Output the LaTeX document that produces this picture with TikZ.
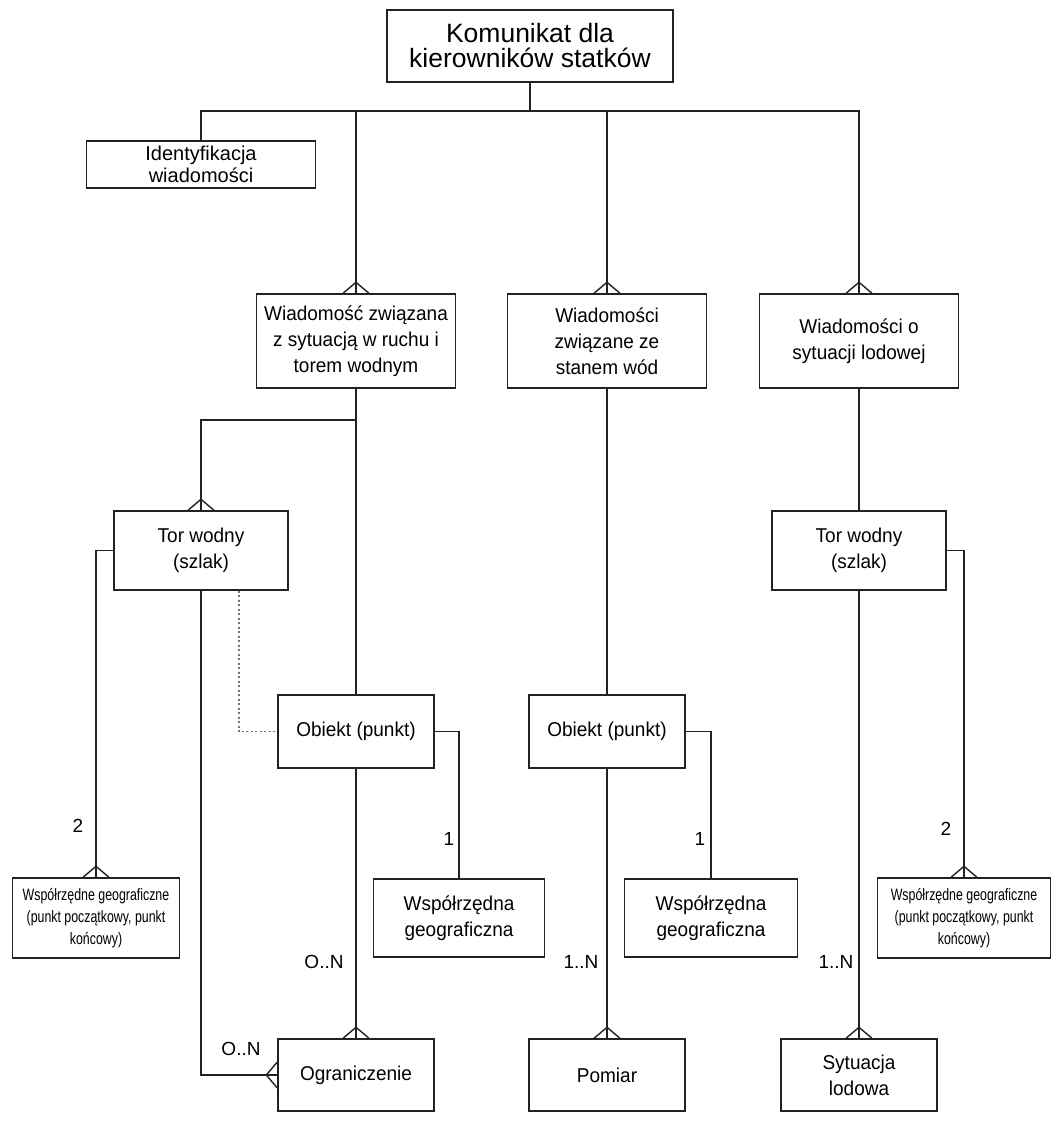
\documentclass[tikz,border=0pt]{standalone}
\usepackage{fontspec}
\setmainfont{Liberation Sans}
\newfontfamily\narrowfont[FakeStretch=0.75]{Liberation Sans}
\newfontfamily\boxfont[FakeStretch=0.95]{Liberation Sans}
\usetikzlibrary{calc}
\definecolor{ink}{HTML}{222222}
\tikzset{
  box/.style={draw=ink, line width=1.4pt, rectangle, align=center, inner sep=2pt,
    font=\boxfont\fontsize{20}{26}\selectfont, text=black},
  smallbox/.style={box, font=\narrowfont\fontsize{16.5}{22}\selectfont},
  conn/.style={draw=ink, line width=1.4pt},
  dotconn/.style={draw=gray!90!black, line width=1.6pt, dash pattern=on 2pt off 2.5pt},
  lbl/.style={font=\fontsize{19}{22}\selectfont, inner sep=0pt},
}
\newcommand\crowN[1]{\draw[conn] (#1) ++(-13,0) -- ++(13,-11) -- ++(13,11);}
\newcommand\crowW[1]{\draw[conn] (#1) ++(0,-13) -- ++(-11,13) -- ++(11,13);}
\begin{document}
\begin{tikzpicture}[x=1pt,y=-1pt]
\useasboundingbox[fill=white] (0,0) rectangle (1063,1126);
% nodes
\node[box, minimum width=286, minimum height=72, font=\fontsize{26.5}{25}\selectfont] (top) at (530,46) {Komunikat dla\\kierowników statków};
\node[box, minimum width=229, minimum height=47, font=\fontsize{20}{22}\selectfont] (ident) at (201,164.5) {Identyfikacja\\wiadomości};
\node[box, minimum width=199, minimum height=94] (w1) at (356,341) {Wiadomość związana\\z sytuacją w ruchu i\\torem wodnym};
\node[box, minimum width=199, minimum height=94] (w2) at (607,341) {Wiadomości\\związane ze\\stanem wód};
\node[box, minimum width=199, minimum height=94] (w3) at (859,341) {Wiadomości o\\sytuacji lodowej};
\node[box, minimum width=174, minimum height=79] (t1) at (201,550.5) {Tor wodny\\(szlak)};
\node[box, minimum width=174, minimum height=79] (t2) at (859,550.5) {Tor wodny\\(szlak)};
\node[box, minimum width=156, minimum height=73] (o1) at (356,731.5) {Obiekt (punkt)};
\node[box, minimum width=156, minimum height=73] (o2) at (607,731.5) {Obiekt (punkt)};
\node[smallbox, minimum width=167, minimum height=80] (gL) at (96,918) {Współrzędne geograficzne\\(punkt początkowy, punkt\\końcowy)};
\node[smallbox, minimum width=173, minimum height=80] (gR) at (964,918) {Współrzędne geograficzne\\(punkt początkowy, punkt\\końcowy)};
\node[box, minimum width=171, minimum height=78] (g1) at (459,918) {Współrzędna\\geograficzna};
\node[box, minimum width=173, minimum height=78] (g2) at (711,918) {Współrzędna\\geograficzna};
\node[box, minimum width=156, minimum height=72] (ogr) at (356,1075) {Ograniczenie};
\node[box, minimum width=156, minimum height=72] (pom) at (607,1075) {Pomiar};
\node[box, minimum width=156, minimum height=72] (syt) at (859,1075) {Sytuacja\\lodowa};
\coordinate (bus) at (0,111);
\coordinate (split) at (0,420);
% connectors
\draw[conn] (top.south) -- (top.south |- bus);
\draw[conn] (ident.north) |- (w3.north |- bus) -- (w3.north);
\draw[conn] (w1.north |- bus) -- (w1.north);
\draw[conn] (w2.north |- bus) -- (w2.north);
\draw[conn] (w1.south) -- (o1.north);
\draw[conn] (w1.south |- split) -| (t1.north);
\draw[conn] (t1.west) -| (gL.north);
\draw[conn] (t1.south) |- (ogr.west);
\draw[dotconn] ($(t1.south east)+(-50,0)$) |- (o1.west);
\draw[conn] (o1.east) -| (g1.north);
\draw[conn] (o1.south) -- (ogr.north);
\draw[conn] (w2.south) -- (o2.north);
\draw[conn] (o2.east) -| (g2.north);
\draw[conn] (o2.south) -- (pom.north);
\draw[conn] (w3.south) -- (t2.north);
\draw[conn] (t2.east) -| (gR.north);
\draw[conn] (t2.south) -- (syt.north);
% crow's feet
\crowN{w1.north}
\crowN{w2.north}
\crowN{w3.north}
\crowN{t1.north}
\crowN{gL.north}
\crowN{gR.north}
\crowN{ogr.north}
\crowN{pom.north}
\crowN{syt.north}
\crowW{ogr.west}
% labels
\node[lbl] (l2a) at (78,826) {2};
\node[lbl] (l1a) at (449,839) {1};
\node[lbl] (l1b) at (700,839) {1};
\node[lbl] (l2b) at (946,829) {2};
\node[lbl] (lon1) at (324,962) {O..N};
\node[lbl] (lon2) at (241,1049) {O..N};
\node[lbl] (l1n1) at (581,962) {1..N};
\node[lbl] (l1n2) at (836,962) {1..N};
\end{tikzpicture}
\end{document}
